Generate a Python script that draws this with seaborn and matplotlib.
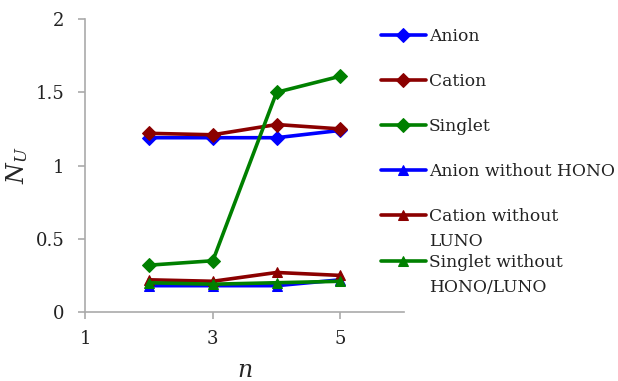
import pandas as pd
import seaborn as sns
import matplotlib.pyplot as plt

# Values
n_values = [2, 3, 4, 5]
anion = [1.19, 1.19, 1.19, 1.24]
cation = [1.22, 1.21, 1.28, 1.25]
singlet = [0.32, 0.35, 1.50, 1.61]
anion_wo = [0.18, 0.18, 0.18, 0.22]
cation_wo = [0.22, 0.21, 0.27, 0.25]
singlet_wo = [0.20, 0.19, 0.20, 0.21]

series_names = ['Anion', 'Cation', 'Singlet', 'Anion without HONO',
                'Cation without', 'Singlet without']
# second lines of the wrapped legend labels
label_tails = {4: 'LUNO', 5: 'HONO/LUNO'}
series_values = [anion, cation, singlet, anion_wo, cation_wo, singlet_wo]
colors = ['#0000FF', '#8B0000', '#008000', '#0000FF', '#8B0000', '#008000']
markers = ['D', 'D', 'D', '^', '^', '^']

sns.set_style('white')
plt.rcParams['font.family'] = ['DejaVu Serif']
plt.rcParams['mathtext.fontset'] = 'dejavuserif'

fig, ax = plt.subplots(figsize=(6.18, 3.81), dpi=100)
fig.subplots_adjust(left=0.138, right=0.654, top=0.95, bottom=0.181)

for name, vals, c, m in zip(series_names, series_values, colors, markers):
    df = pd.DataFrame({'n': n_values, 'N': vals})
    sns.lineplot(data=df, x='n', y='N', ax=ax, color=c, marker=m,
                 markersize=11 if m == 'D' else 12,
                 markeredgecolor=c, linewidth=2.6, label=name)

ax.set_xlim(1, 6)
ax.set_ylim(0, 2)
ax.set_xticks([1, 3, 5])
ax.set_yticks([0, 0.5, 1, 1.5, 2])
ax.set_yticklabels(['0', '0.5', '1', '1.5', '2'])
ax.tick_params(axis='both', labelsize=13, colors='#aaaaaa', labelcolor='#222222',
               length=5, width=1.2, direction='out', bottom=True, left=True)
ax.tick_params(axis='y', pad=10)
ax.tick_params(axis='x', pad=8)
for side in ['top', 'right']:
    ax.spines[side].set_visible(False)
for side in ['left', 'bottom']:
    ax.spines[side].set_color('#aaaaaa')
    ax.spines[side].set_linewidth(1.2)

ax.set_xlabel('$n$', fontsize=17, labelpad=8)
ax.set_ylabel('$N_U$', fontsize=17, labelpad=4)

handles, labels = ax.get_legend_handles_labels()
for h in handles:
    h.set_markersize(7)
leg = ax.legend(handles, labels, loc='upper left', bbox_to_anchor=(0.88, 1.023),
                frameon=False, fontsize=12.3, labelspacing=1.65,
                handlelength=2.6, handletextpad=0.2)
for t in leg.get_texts():
    t.set_color('#222222')

# put the wrapped second lines under their legend labels
fig.canvas.draw()
inv = fig.transFigure.inverted()
for i, tail in label_tails.items():
    bb = leg.get_texts()[i].get_window_extent()
    x0, y0 = inv.transform((bb.x0, bb.y0 - 25))
    fig.text(x0, y0, tail, fontsize=12.3, color='#222222', va='bottom', ha='left')

plt.savefig('out.png', dpi=100)
